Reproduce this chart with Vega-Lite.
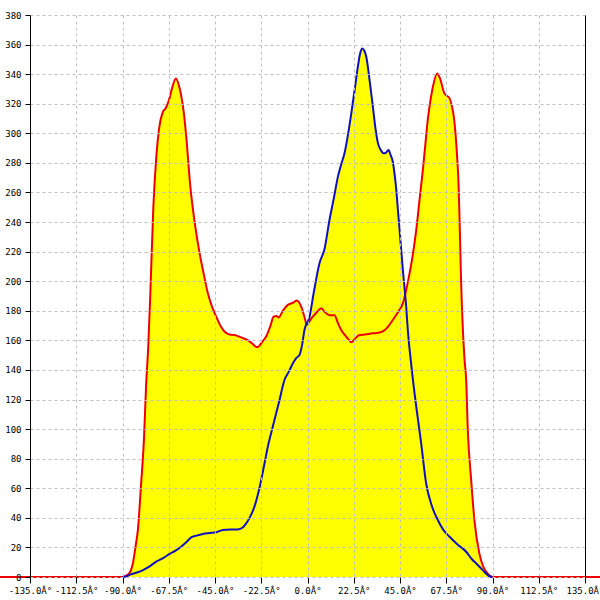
{
  "$schema": "https://vega.github.io/schema/vega-lite/v6.json",
  "autosize": {"type": "none"},
  "width": 555,
  "height": 562,
  "padding": {"left": 30, "top": 15, "right": 15, "bottom": 23},
  "background": "white",
  "datasets": {
    "red": [
      {"deg": -180, "v": 0}, {"deg": -90, "v": 0}, {"deg": -89, "v": 0.5}, {"deg": -87, "v": 2},
      {"deg": -85, "v": 9}, {"deg": -83.5, "v": 22}, {"deg": -82.5, "v": 32}, {"deg": -81, "v": 62},
      {"deg": -79.5, "v": 95}, {"deg": -78.5, "v": 130}, {"deg": -77.5, "v": 155}, {"deg": -76.5, "v": 190},
      {"deg": -75, "v": 250}, {"deg": -73.5, "v": 285}, {"deg": -72, "v": 305}, {"deg": -70.5, "v": 314},
      {"deg": -69, "v": 317}, {"deg": -67.5, "v": 322}, {"deg": -66, "v": 330}, {"deg": -64, "v": 337},
      {"deg": -62.5, "v": 332}, {"deg": -61.5, "v": 326}, {"deg": -60, "v": 312}, {"deg": -59, "v": 298},
      {"deg": -57, "v": 264}, {"deg": -55, "v": 241}, {"deg": -52.5, "v": 219}, {"deg": -50.5, "v": 205},
      {"deg": -48.5, "v": 192}, {"deg": -46.5, "v": 183}, {"deg": -44.4, "v": 176}, {"deg": -42, "v": 169},
      {"deg": -40.4, "v": 166}, {"deg": -38, "v": 164}, {"deg": -35.5, "v": 163.6}, {"deg": -32.3, "v": 162},
      {"deg": -29, "v": 160}, {"deg": -27, "v": 158}, {"deg": -24.5, "v": 155.3}, {"deg": -22, "v": 159},
      {"deg": -20, "v": 163}, {"deg": -18, "v": 170}, {"deg": -16.5, "v": 176}, {"deg": -15, "v": 176.5},
      {"deg": -14, "v": 175.5}, {"deg": -12, "v": 180}, {"deg": -9.6, "v": 184}, {"deg": -7, "v": 185.5},
      {"deg": -5.2, "v": 187}, {"deg": -3.1, "v": 183}, {"deg": -1.5, "v": 176}, {"deg": -0.3, "v": 170.4},
      {"deg": 1, "v": 173}, {"deg": 2.6, "v": 176}, {"deg": 4.5, "v": 179}, {"deg": 6.7, "v": 181.7},
      {"deg": 8.5, "v": 179}, {"deg": 10.7, "v": 177}, {"deg": 13.1, "v": 177}, {"deg": 15, "v": 171},
      {"deg": 16.4, "v": 167}, {"deg": 18.5, "v": 163}, {"deg": 20.4, "v": 160}, {"deg": 21.3, "v": 158.7},
      {"deg": 23, "v": 161}, {"deg": 25.3, "v": 163.6}, {"deg": 28, "v": 164}, {"deg": 31.8, "v": 164.8},
      {"deg": 34, "v": 165}, {"deg": 36.6, "v": 166}, {"deg": 39, "v": 169}, {"deg": 41.5, "v": 173.8},
      {"deg": 44, "v": 179}, {"deg": 46.4, "v": 185}, {"deg": 48, "v": 194}, {"deg": 49.6, "v": 205},
      {"deg": 51, "v": 216}, {"deg": 52.9, "v": 234.6}, {"deg": 54.5, "v": 255}, {"deg": 56.1, "v": 275},
      {"deg": 57.3, "v": 292}, {"deg": 58.5, "v": 309}, {"deg": 59.8, "v": 322}, {"deg": 61, "v": 331.5},
      {"deg": 63.1, "v": 340.5}, {"deg": 64.5, "v": 337}, {"deg": 66.6, "v": 327}, {"deg": 69.1, "v": 323.6},
      {"deg": 70.3, "v": 318}, {"deg": 71.2, "v": 311}, {"deg": 72, "v": 300}, {"deg": 72.8, "v": 284},
      {"deg": 73.5, "v": 265}, {"deg": 73.9, "v": 246}, {"deg": 74.7, "v": 201}, {"deg": 75.6, "v": 167},
      {"deg": 76.4, "v": 147}, {"deg": 77.2, "v": 133}, {"deg": 78, "v": 99}, {"deg": 79.6, "v": 66},
      {"deg": 81.2, "v": 38.5}, {"deg": 83.6, "v": 16}, {"deg": 85.5, "v": 7}, {"deg": 86.9, "v": 3.6},
      {"deg": 89.3, "v": 0.3}, {"deg": 90, "v": 0}, {"deg": 180, "v": 0}
    ],
    "blue": [
      {"deg": -90, "v": 0}, {"deg": -88, "v": 0.5}, {"deg": -86.6, "v": 1.4}, {"deg": -83, "v": 3},
      {"deg": -80, "v": 4.7}, {"deg": -77, "v": 7}, {"deg": -73.6, "v": 10.4}, {"deg": -70, "v": 13},
      {"deg": -67.1, "v": 15.6}, {"deg": -64, "v": 18}, {"deg": -61.5, "v": 20.5}, {"deg": -59, "v": 23.5},
      {"deg": -56.6, "v": 26.8}, {"deg": -54, "v": 28}, {"deg": -50.9, "v": 29.1}, {"deg": -47.5, "v": 29.7},
      {"deg": -44.4, "v": 30.2}, {"deg": -41.2, "v": 31.8}, {"deg": -37.5, "v": 32.2}, {"deg": -33.9, "v": 32.2},
      {"deg": -31.5, "v": 33.5}, {"deg": -29.8, "v": 36.3}, {"deg": -27.8, "v": 41}, {"deg": -25.8, "v": 47.6},
      {"deg": -23.4, "v": 60}, {"deg": -20.9, "v": 76.9}, {"deg": -19.3, "v": 88.1}, {"deg": -16.9, "v": 101.6},
      {"deg": -14, "v": 117.4}, {"deg": -11.2, "v": 133.2}, {"deg": -9, "v": 139}, {"deg": -7.1, "v": 144.5},
      {"deg": -5.5, "v": 148}, {"deg": -3.9, "v": 150.1}, {"deg": -2.5, "v": 158}, {"deg": -1.5, "v": 167},
      {"deg": 1, "v": 176}, {"deg": 3, "v": 192}, {"deg": 5.8, "v": 212}, {"deg": 8.3, "v": 222},
      {"deg": 10.7, "v": 241.4}, {"deg": 12.8, "v": 256}, {"deg": 14.8, "v": 270.7}, {"deg": 16.4, "v": 279},
      {"deg": 18, "v": 286.5}, {"deg": 19.8, "v": 300}, {"deg": 21.3, "v": 313.5}, {"deg": 23, "v": 330},
      {"deg": 24.5, "v": 345}, {"deg": 25.6, "v": 354}, {"deg": 26.6, "v": 357.4}, {"deg": 27.6, "v": 356},
      {"deg": 28.6, "v": 351.8}, {"deg": 30.2, "v": 336}, {"deg": 31.8, "v": 318}, {"deg": 33, "v": 304},
      {"deg": 34.3, "v": 293.2}, {"deg": 35.5, "v": 289}, {"deg": 37, "v": 286.5}, {"deg": 38.2, "v": 287},
      {"deg": 39.4, "v": 288.7}, {"deg": 40.5, "v": 285}, {"deg": 41.5, "v": 280.8}, {"deg": 42.4, "v": 272},
      {"deg": 43.2, "v": 261.7}, {"deg": 44, "v": 248}, {"deg": 44.8, "v": 234.6}, {"deg": 46.4, "v": 207.6},
      {"deg": 48, "v": 182.8}, {"deg": 48.8, "v": 167}, {"deg": 50.4, "v": 144.5}, {"deg": 52.9, "v": 115.2},
      {"deg": 55.3, "v": 90.4}, {"deg": 57.7, "v": 63.4}, {"deg": 60.5, "v": 48}, {"deg": 63.4, "v": 38.5},
      {"deg": 66, "v": 32}, {"deg": 69.1, "v": 27.2}, {"deg": 73, "v": 22}, {"deg": 77.2, "v": 17.1},
      {"deg": 80, "v": 12}, {"deg": 82, "v": 9.3}, {"deg": 85, "v": 5}, {"deg": 88.5, "v": 0.5},
      {"deg": 90, "v": 0}
    ]
  },
  "encoding": {
    "x": {
      "field": "deg",
      "type": "quantitative",
      "scale": {"domain": [-135, 135], "nice": false},
      "axis": {
        "title": null,
        "values": [-135, -112.5, -90, -67.5, -45, -22.5, 0, 22.5, 45, 67.5, 90, 112.5, 135],
        "labelExpr": "(datum.value < 0 ? '-' : '') + format(abs(datum.value), '.1f') + 'Â°'",
        "domain": false,
        "tickColor": "black",
        "tickSize": 6,
        "labelPadding": 3,
        "labelColor": "black",
        "labelFont": "DejaVu Sans Mono",
        "labelFontSize": 9,
        "labelOverlap": false,
        "labelFlush": false,
        "grid": true,
        "gridColor": "#c0c0c0",
        "gridDash": [3, 3],
        "zindex": 1
      }
    }
  },
  "layer": [
    {
      "data": {"name": "red"},
      "mark": {"type": "area", "color": "#ffff00", "interpolate": "monotone"},
      "encoding": {
        "y": {
          "field": "v",
          "type": "quantitative",
          "stack": null,
          "scale": {"domain": [0, 380], "nice": false},
          "axis": {
            "title": null,
            "values": [0, 20, 40, 60, 80, 100, 120, 140, 160, 180, 200, 220, 240, 260, 280, 300, 320, 340, 360, 380],
            "domainColor": "black",
            "tickColor": "black",
            "tickSize": 5,
            "labelPadding": 4,
            "labelColor": "black",
            "labelFont": "DejaVu Sans Mono",
            "labelFontSize": 9,
            "labelOverlap": false,
            "labelFlush": false,
            "grid": true,
            "gridColor": "#c0c0c0",
            "gridDash": [3, 3],
            "zindex": 2
          }
        }
      }
    },
    {
      "data": {"name": "blue"},
      "mark": {"type": "area", "color": "#ffff00", "interpolate": "monotone"},
      "encoding": {
        "y": {"field": "v", "type": "quantitative", "stack": null, "axis": null}
      }
    },
    {
      "data": {"name": "red"},
      "mark": {"type": "line", "color": "#ee0000", "strokeWidth": 2, "interpolate": "monotone"},
      "encoding": {
        "y": {"field": "v", "type": "quantitative", "axis": null}
      }
    },
    {
      "data": {"name": "blue"},
      "mark": {"type": "line", "color": "#1010c0", "strokeWidth": 2, "interpolate": "monotone"},
      "encoding": {
        "y": {
          "field": "v",
          "type": "quantitative",
          "axis": {
            "orient": "right",
            "title": null,
            "labels": false,
            "ticks": false,
            "grid": false,
            "domainColor": "black",
            "zindex": 3
          }
        }
      }
    }
  ],
  "resolve": {"axis": {"y": "independent"}},
  "config": {"view": {"stroke": null}}
}
